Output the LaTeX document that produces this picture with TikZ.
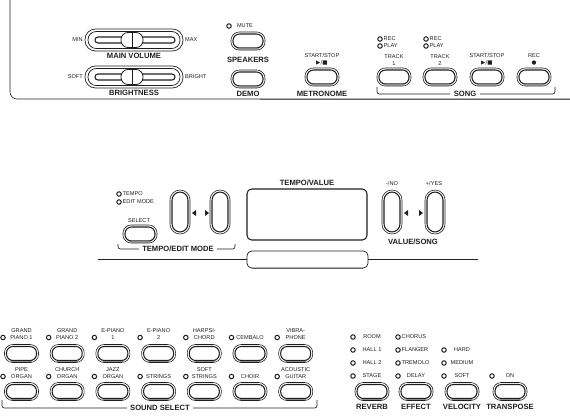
\documentclass[tikz,border=0pt]{standalone}
\usepackage{fontspec}
\setmainfont{Liberation Sans}
\newfontfamily\symfont{DejaVu Sans}
\definecolor{pnInk}{HTML}{1E1E1E}
\definecolor{pnShade}{HTML}{8A8A8A}
\usetikzlibrary{calc,positioning}

\tikzset{
  lbl/.style={font=\fontsize{6.5}{7}\selectfont\bfseries, inner sep=0pt, text=pnInk},
  sml/.style={font=\fontsize{4.8}{5.7}\selectfont, inner sep=0pt, align=center, text=pnInk},
  ledring/.style={draw=pnInk, line width=0.85pt},
  % push button with bezel
  keybtn/.pic={
    \draw[pnInk, line width=0.5pt, rounded corners=7pt] (-17,-9) rectangle (17,9);
    \draw[pnInk, line width=0.9pt, rounded corners=5.5pt] (-15,-7) rectangle (15,7);
    \draw[pnShade, line width=1.3pt, line cap=round] (-10,8) -- (10,8);
  },
  % tall arrow button
  tallbtn/.pic={
    \draw[pnInk, line width=0.5pt, rounded corners=8.5pt] (-10,-22) rectangle (10,22);
    \draw[pnInk, line width=0.9pt, rounded corners=7pt] (-8,-20) rectangle (8,20);
  },
  % slider with knob
  slider/.pic={
    \draw[pnInk, line width=0.6pt, rounded corners=9pt] (-49,-11) rectangle (49,11);
    \draw[pnInk, line width=0.6pt, rounded corners=7pt] (-46,-8.5) rectangle (46,8.5);
    \draw[pnInk, line width=0.9pt, rounded corners=2.5pt] (-39,-3) rectangle (41,3);
    \draw[pnInk, fill=white, line width=0.7pt, rounded corners=6pt] (-13,-7.5) rectangle (9,7.5);
    \draw[pnInk, line width=0.6pt] (-2,-7.5) -- (-2,7.5);
  }
}

\begin{document}
\begin{tikzpicture}[x=0.03cm, y=-0.03cm]
  \useasboundingbox (0,0) rectangle (570,415);

  % -- Top panel frame --
  \draw[pnShade, line width=1.5pt] (260,99.5) -- (570,99.5);
  \draw[pnInk, line width=0.5pt, rounded corners=6pt] (10,0) -- (10,99) -- (570,99);

  % -- Sliders --
  \pic at (134,40) {slider};
  \node[sml, anchor=east] (volmin) at (83,40) {MIN};
  \node[sml, anchor=west] (volmax) at (185,40) {MAX};
  \node[lbl] (mainvol) at (134,56) {MAIN VOLUME};
  \pic at (134,77) {slider};
  \node[sml, anchor=east] (brsoft) at (83,77) {SOFT};
  \node[sml, anchor=west] (brbright) at (185,77) {BRIGHT};
  \node[lbl] (bright) at (134,93) {BRIGHTNESS};

  % -- Speakers / Demo --
  \draw[ledring] (229,26) circle (1.9pt);
  \node[sml] (mute) at (245,26) {MUTE};
  \pic at (248,41) {keybtn};
  \node[lbl] (speakers) at (248,60) {SPEAKERS};
  \pic at (248,79) {keybtn};
  \node[lbl] (demo) at (248,94) {DEMO};

  % -- Metronome --
  \node[sml, anchor=south] (metss) at (322,65.5) {START/STOP\\{\symfont ▶/■}};
  \pic at (322,77) {keybtn};
  \node[lbl] (metro) at (322,94) {METRONOME};

  % -- Song section --
  \foreach \x/\n in {380/1, 426/2} {
    \draw[ledring] (\x,39) circle (1.9pt);
    \draw[ledring] (\x,46) circle (1.9pt);
    \node[sml, anchor=west] (rec\n) at (\x+3.5,39) {REC};
    \node[sml, anchor=west] (play\n) at (\x+3.5,46) {PLAY};
  }
  \foreach \x/\top/\bot in {394/TRACK/1, 440/TRACK/2, 487/{START/STOP}/{\symfont ▶/■}, 534/REC/{\symfont ●}} {
    \node[sml, anchor=south] (song\x) at (\x,65.5) {\top\\\bot};
    \pic at (\x,77) {keybtn};
  }
  \draw[pnInk, line width=0.5pt, rounded corners=2pt] (377,87) -- (377,94) -- (555,94) -- (555,87);
  \node[lbl, fill=white, inner xsep=3pt] (song) at (465,94) {SONG};

  % -- Tempo / edit mode --
  \draw[ledring] (119,194) circle (1.9pt);
  \draw[ledring] (119,202) circle (1.9pt);
  \node[sml, anchor=west] (tempo) at (122.5,194) {TEMPO};
  \node[sml, anchor=west] (editmode) at (122.5,202) {EDIT MODE};
  \node[sml] (select) at (139,221) {SELECT};
  \pic at (140,234) {keybtn};
  \pic at (180,212) {tallbtn};
  \pic at (220,212) {tallbtn};
  \fill[pnInk] (192,213) -- (196,210) -- (196,216) -- cycle;
  \fill[pnInk] (209,213) -- (205,210) -- (205,216) -- cycle;
  \draw[pnInk, line width=0.5pt, rounded corners=2pt] (118,244) -- (118,249) -- (235,249) -- (235,244);
  \node[lbl, fill=white, inner xsep=3pt] (tempoedit) at (178,249) {TEMPO/EDIT MODE};

  % -- Display --
  \node[lbl] (tempoval) at (307,183) {TEMPO/VALUE};
  \draw[pnInk, line width=0.9pt, rounded corners=4pt] (247,189) rectangle (367,240);
  \draw[pnInk, line width=0.5pt] (98,259) -- (247,259);
  \draw[pnInk, line width=0.5pt] (368,259) -- (478,259);
  \draw[pnShade, line width=1.2pt] (252,268.3) -- (363,268.3);
  \draw[pnInk, line width=0.6pt, rounded corners=4pt] (247,251) rectangle (368,268);

  % -- Value / song --
  \node[sml] (minusno) at (392,183) {-/NO};
  \node[sml] (plusyes) at (434,183) {+/YES};
  \pic at (392,212) {tallbtn};
  \pic at (435,212) {tallbtn};
  \fill[pnInk] (404,213) -- (408,210) -- (408,216) -- cycle;
  \fill[pnInk] (423,213) -- (419,210) -- (419,216) -- cycle;
  \node[lbl] (valsong) at (413,242) {VALUE/SONG};

  % -- Sound select, row 1 --
  \foreach \i/\top/\bot in {0/GRAND/PIANO 1, 1/GRAND/PIANO 2, 2/E-PIANO/1, 3/E-PIANO/2,
                            4/HARPSI-/CHORD, 5//CEMBALO, 6/VIBRA-/PHONE} {
    \pgfmathsetmacro\cx{21.5+45.7*\i}
    \draw[ledring] (\cx-18.5,337.5) circle (1.9pt);
    \node[sml, anchor=south] (sa\i) at (\cx,339.5) {\top\\\bot};
    \pic at (\cx,353.5) {keybtn};
  }
  % -- Sound select, row 2 --
  \foreach \i/\top/\bot in {0/PIPE/ORGAN, 1/CHURCH/ORGAN, 2/JAZZ/ORGAN, 3//STRINGS,
                            4/SOFT/STRINGS, 5//CHOIR, 6/ACOUSTIC/GUITAR} {
    \pgfmathsetmacro\cx{21.5+45.7*\i}
    \draw[ledring] (\cx-18.5,376.5) circle (1.9pt);
    \node[sml, anchor=south] (sb\i) at (\cx,378.5) {\top\\\bot};
    \pic at (\cx,391.5) {keybtn};
  }
  \draw[pnInk, line width=0.5pt, rounded corners=2pt] (2,400) -- (2,408) -- (317,408) -- (317,400);
  \node[lbl, fill=white, inner xsep=3pt] (soundsel) at (160,408) {SOUND SELECT};

  % -- Reverb --
  \foreach \y/\t in {337/ROOM, 350/HALL 1, 363/HALL 2, 376/STAGE} {
    \draw[ledring] (353,\y) circle (1.9pt);
    \node[sml] (rv\y) at (372,\y) {\t};
  }
  \pic at (372,391.5) {keybtn};
  \node[lbl] (reverb) at (372,407) {REVERB};

  % -- Effect --
  \foreach \y/\t in {337/CHORUS, 350/FLANGER, 363/TREMOLO} {
    \draw[ledring] (398,\y) circle (1.9pt);
    \node[sml, anchor=west] (fx\y) at (401.5,\y) {\t};
  }
  \draw[ledring] (398,376) circle (1.9pt);
  \node[sml] (delay) at (416,376) {DELAY};
  \pic at (416,391.5) {keybtn};
  \node[lbl] (effect) at (416,407) {EFFECT};

  % -- Velocity --
  \foreach \y/\t in {350/HARD, 363/MEDIUM, 376/SOFT} {
    \draw[ledring] (444,\y) circle (1.9pt);
    \node[sml] (vel\y) at (462,\y) {\t};
  }
  \pic at (462,391.5) {keybtn};
  \node[lbl] (velocity) at (462,407) {VELOCITY};

  % -- Transpose --
  \draw[ledring] (492,376) circle (1.9pt);
  \node[sml] (on) at (510,376) {ON};
  \pic at (510,391.5) {keybtn};
  \node[lbl] (transpose) at (510,407) {TRANSPOSE};
\end{tikzpicture}
\end{document}
